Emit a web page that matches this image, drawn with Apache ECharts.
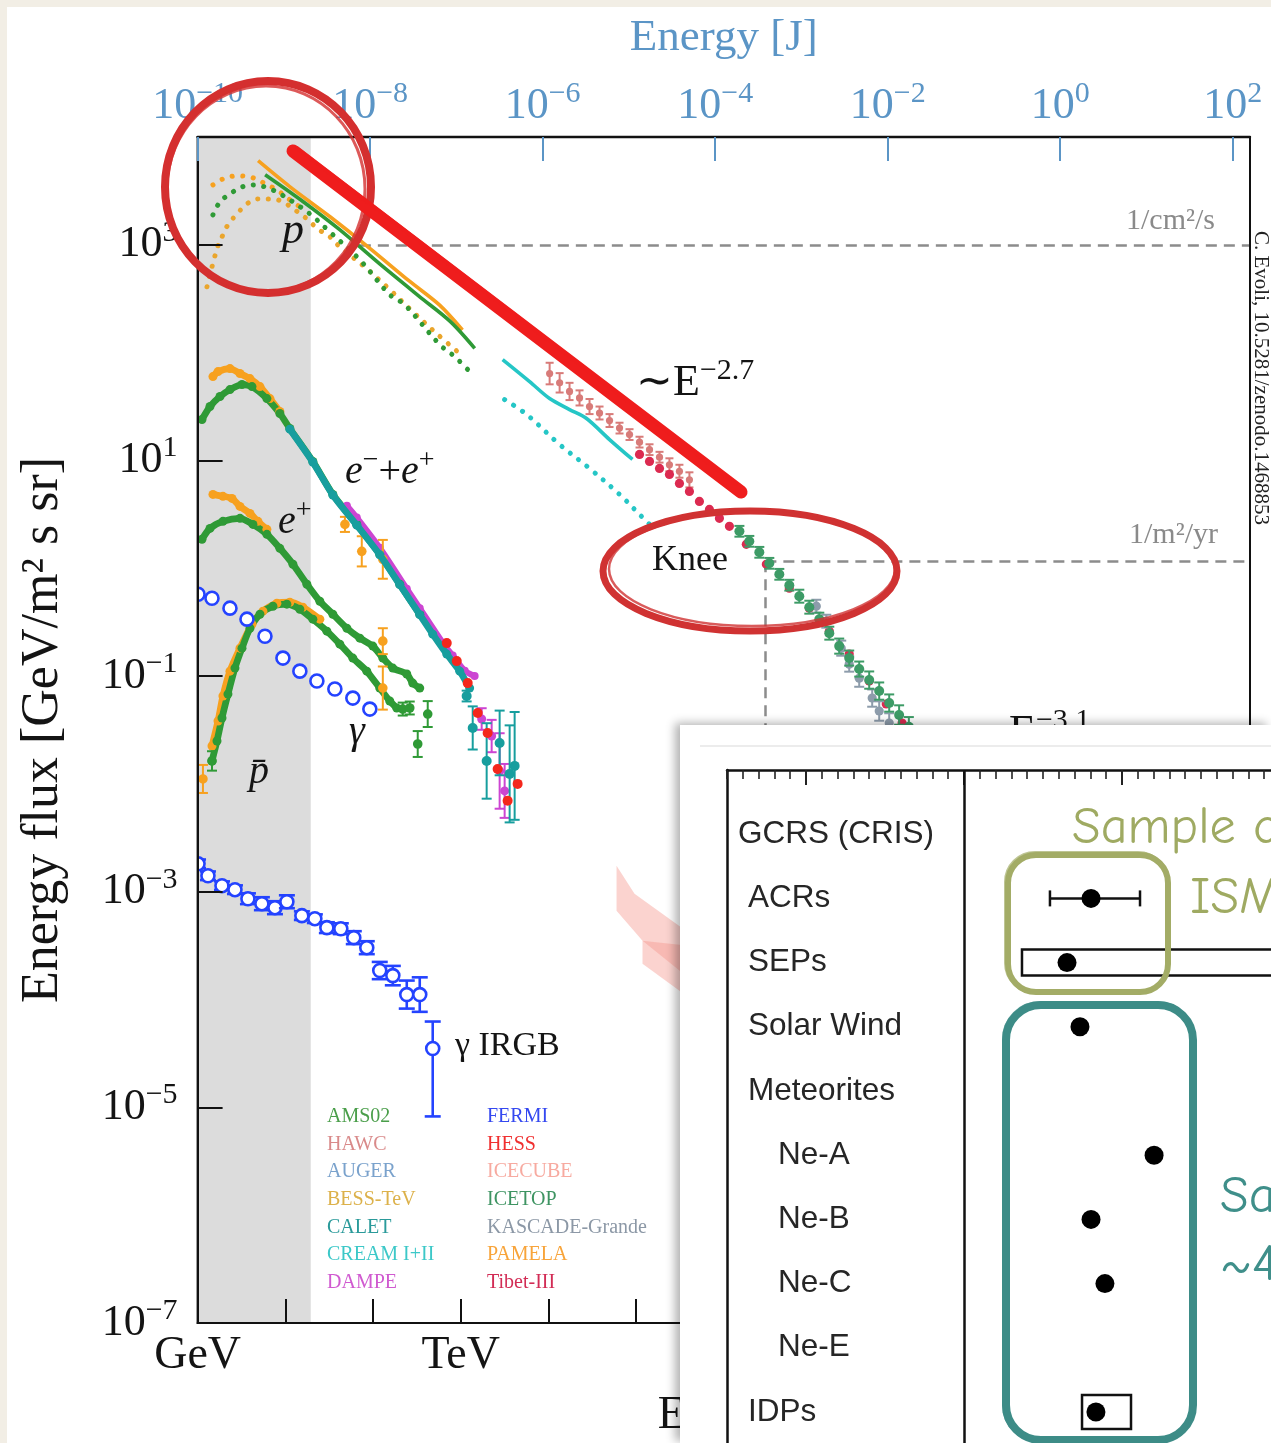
<!DOCTYPE html>
<html>
<head>
<meta charset="utf-8">
<title>Cosmic ray energy flux</title>
<script src="https://cdn.jsdelivr.net/npm/echarts@6.0.0/dist/echarts.min.js"></script>
<style>
html,body{margin:0;padding:0;width:1271px;height:1443px;overflow:hidden;background:#f2eee5;}
#paper{position:absolute;left:7px;top:7px;right:0;bottom:0;background:#fff;}
#main{position:absolute;left:0;top:0;width:1271px;height:1443px;}
#inset{position:absolute;left:680px;top:725px;width:591px;height:718px;background:#fff;box-shadow:-5px -2px 9px rgba(0,0,0,0.30);}
</style>
</head>
<body>
<div id="paper"></div>
<div id="main"></div>
<div id="inset"></div>
<script>
// ================= DATA (main chart: [log10(E/GeV), log10(flux)]) =================
const bottomTickNames = ['GeV','','','TeV','','','PeV','','','EeV','','',''];
const topTickValues = [-10,-8,-6,-4,-2,0,2];
const shadeMaxE = 1.29;
const levelLines = [ [[1.85,3.0],[12,3.0]], [[6.474,0.065],[12,0.065]], [[6.474,0.065],[6.474,-7]] ];

// protons
const pPamela = [[0.69,3.78],[1.05,3.54],[1.51,3.26],[1.96,2.97],[2.42,2.66],[2.76,2.44],[3.02,2.21]];
const pAms = [[0.77,3.65],[1.17,3.42],[1.62,3.14],[2.08,2.82],[2.53,2.52],[2.88,2.29],[3.16,2.04]];
const pPamelaDot = [[0.175,3.556],[0.289,3.611],[0.449,3.639],[0.597,3.630],[0.733,3.583],[0.904,3.509],[1.052,3.417],[1.166,3.352]];
const pBessDot = [[0.107,2.611],[0.221,2.963],[0.289,3.093],[0.346,3.185],[0.449,3.287],[0.563,3.380],[0.688,3.426],[0.847,3.426],[0.973,3.398],[1.109,3.324],[1.246,3.241],[1.371,3.148],[1.508,3.074],[1.622,2.981],[1.929,2.778],[2.157,2.611],[2.453,2.380],[2.727,2.176],[2.989,1.991]];
const pAmsDot = [[0.175,3.278],[0.255,3.398],[0.369,3.472],[0.506,3.537],[0.654,3.556],[0.825,3.519],[0.961,3.463],[1.087,3.398],[1.28,3.287],[1.508,3.120],[1.85,2.861],[2.191,2.537],[2.362,2.444],[2.761,2.074],[2.932,1.963],[3.080,1.843]];
const pCream = [[3.478,1.935],[3.786,1.731],[4.014,1.574],[4.241,1.472],[4.435,1.389],[4.697,1.194],[4.959,1.009]];
const pCreamDot = [[3.501,1.565],[3.752,1.426],[4.128,1.148],[4.469,0.926],[4.811,0.685],[5.039,0.500],[5.210,0.361]];
// [logE, logF, err]
const pHawc = [[4.014,1.806,0.10],[4.128,1.72,0.09],[4.241,1.64,0.08],[4.355,1.58,0.07],[4.469,1.50,0.07],[4.583,1.44,0.06],[4.697,1.37,0.06],[4.811,1.30,0.05],[4.925,1.24,0.05],[5.039,1.17,0.05],[5.153,1.10,0.05],[5.267,1.03,0.05],[5.380,0.96,0.06],[5.494,0.90,0.06],[5.608,0.82,0.07]];
const pTibet = [[5.039,1.056],[5.153,0.991],[5.267,0.926],[5.380,0.870],[5.494,0.787],[5.608,0.713],[5.722,0.620],[5.836,0.546],[5.950,0.463],[6.064,0.389],[6.257,0.222],[6.485,0.037],[6.747,-0.185],[6.975,-0.370],[7.203,-0.583],[7.430,-0.796],[7.658,-1.046],[7.852,-1.259],[8.033,-1.435]];
const pIcetop = [[6.178,0.343,0.05],[6.291,0.250,0.05],[6.405,0.148,0.05],[6.519,0.046,0.05],[6.633,-0.056,0.05],[6.747,-0.157,0.05],[6.861,-0.259,0.06],[6.975,-0.361,0.06],[7.089,-0.472,0.06],[7.203,-0.602,0.06],[7.316,-0.722,0.07],[7.430,-0.833,0.07],[7.544,-0.935,0.07],[7.658,-1.037,0.08],[7.772,-1.139,0.08],[7.886,-1.250,0.08],[7.999,-1.361,0.09],[8.11,-1.47,0.09]];
const pKascade = [[7.055,-0.352,0.06],[7.169,-0.491,0.06],[7.339,-0.741,0.07],[7.430,-0.889,0.07],[7.544,-1.019,0.08],[7.692,-1.204,0.08],[7.772,-1.324,0.09],[7.886,-1.435,0.09]];
// neutrino bands (polygon outlines)
const iceBandA = [[4.777,-2.759],[4.982,-3.019],[5.60,-3.38],[5.60,-3.80],[5.073,-3.454],[4.777,-3.176]];
const iceBandB = [[5.073,-3.454],[5.60,-3.50],[5.60,-3.98],[5.073,-3.667]];

// electrons + positrons
const eAllAms = [[0.050,1.380],[0.141,1.500],[0.255,1.593],[0.369,1.657],[0.506,1.704],[0.620,1.685],[0.790,1.574],[0.938,1.435],[1.052,1.296],[1.314,0.991],[1.542,0.685],[1.815,0.407],[2.077,0.130],[2.305,-0.148],[2.533,-0.426]];
const eAllPamela = [[0.175,1.778],[0.233,1.824],[0.369,1.852],[0.483,1.806],[0.597,1.759],[0.711,1.685],[0.825,1.574],[0.938,1.454]];
const eAllPamelaErr = [[1.680,0.407,0.07],[1.872,0.157,0.14],[2.112,0.083,0.18]];
const eAllCalet = [[1.052,1.29],[1.314,0.985],[1.542,0.68],[1.815,0.40],[2.077,0.125],[2.305,-0.152],[2.533,-0.43],[2.681,-0.611],[2.841,-0.796],[2.989,-0.954],[3.102,-1.111]];
const eAllCaletErr = [[3.068,-1.185,0.05],[3.137,-1.481,0.2],[3.296,-1.787,0.35],[3.444,-1.620,0.3],[3.558,-1.907,0.45],[3.615,-1.833,0.5]];
const eAllDampe = [[1.702,0.58],[1.815,0.47],[2.077,0.19],[2.385,-0.19],[2.533,-0.37],[2.795,-0.69],[2.909,-0.81],[3.046,-0.95],[3.159,-1.0]];
const eAllDampeErr = [[3.239,-1.398,0.1],[3.353,-1.556,0.15],[3.444,-1.880,0.35],[3.501,-2.065,0.25]];
const eAllHess = [[2.841,-0.694],[2.955,-0.861],[3.080,-1.065],[3.194,-1.343],[3.307,-1.528],[3.421,-1.861],[3.535,-2.157],[3.649,-2.000]];
// positrons
const ePosPamela = [[0.175,0.685],[0.289,0.667],[0.392,0.648],[0.483,0.574],[0.597,0.509],[0.688,0.435],[0.790,0.361]];
const ePosPamelaErr = [[2.112,-0.676,0.12]];
const ePosAms = [[0.050,0.269],[0.141,0.370],[0.289,0.435],[0.483,0.463],[0.631,0.407],[0.790,0.315],[0.938,0.185],[1.087,0.037],[1.246,-0.148],[1.394,-0.306],[1.542,-0.426],[1.702,-0.556],[1.850,-0.648],[1.998,-0.722],[2.112,-0.833],[2.226,-0.926],[2.385,-0.981],[2.453,-1.065],[2.533,-1.111]];
const ePosAmsErr = [[2.624,-1.352,0.12],[2.510,-1.630,0.12]];
// antiprotons
const pbarAms = [[0.164,-1.787],[0.221,-1.602],[0.278,-1.389],[0.346,-1.167],[0.426,-0.926],[0.506,-0.741],[0.597,-0.556],[0.711,-0.426],[0.859,-0.352],[1.018,-0.333],[1.166,-0.380],[1.314,-0.472],[1.474,-0.583],[1.622,-0.704],[1.770,-0.833],[1.929,-0.954],[2.077,-1.111],[2.191,-1.231],[2.271,-1.296]];
const pbarAmsErr = [[0.164,-1.787,0.09],[2.339,-1.306,0.06],[2.419,-1.296,0.06]];
const pbarPamela = [[0.164,-1.648],[0.233,-1.417],[0.289,-1.185],[0.369,-0.954],[0.483,-0.741],[0.620,-0.519],[0.745,-0.398],[0.904,-0.324],[1.052,-0.315],[1.200,-0.361],[1.394,-0.472]];
const pbarPamelaErr = [[0.061,-1.954,0.13],[2.112,-1.111,0.2]];
// gamma
const gammaFermi = [[0.005,-0.241],[0.164,-0.278],[0.369,-0.370],[0.563,-0.472],[0.768,-0.630],[0.973,-0.833],[1.166,-0.954],[1.360,-1.046],[1.565,-1.120],[1.770,-1.204],[1.964,-1.306]];
// [logE, logF, errLow, errHigh]
const gammaIrgb = [[0.005,-2.741,0.04,0.04],[0.118,-2.852,0.04,0.04],[0.278,-2.944,0.04,0.04],[0.426,-2.981,0.04,0.04],[0.574,-3.065,0.05,0.05],[0.733,-3.111,0.06,0.06],[0.882,-3.148,0.06,0.06],[1.018,-3.093,0.06,0.06],[1.189,-3.222,0.04,0.04],[1.337,-3.250,0.04,0.04],[1.474,-3.333,0.05,0.05],[1.633,-3.343,0.05,0.05],[1.781,-3.426,0.06,0.06],[1.929,-3.519,0.06,0.06],[2.077,-3.731,0.08,0.08],[2.226,-3.778,0.09,0.09],[2.385,-3.954,0.13,0.13],[2.533,-3.954,0.16,0.16],[2.681,-4.454,0.63,0.25]];

const legendCol1 = ['AMS02','HAWC','AUGER','BESS-TeV','CALET','CREAM I+II','DAMPE'];
const legendCol2 = ['FERMI','HESS','ICECUBE','ICETOP','KASCADE-Grande','PAMELA','Tibet-III'];

// ================= DATA (inset: 22Ne/20Ne-like ratio per sample) =================
const inCats = ['GCRS (CRIS)','ACRs','SEPs','Solar Wind','Meteorites','Ne-A','Ne-B','Ne-C','Ne-E','IDPs'];
const inValue = {'ACRs':0.0804,'SEPs':0.0652,'Solar Wind':0.0734,'Ne-A':0.1203,'Ne-B':0.0804,'Ne-C':0.0892,'IDPs':0.0835};
const inErrBar = {'ACRs':[0.0544,0.1114]};
const inRangeBox = {'SEPs':[0.0367,0.30],'IDPs':[0.0747,0.1057]};
const inMajorTicks = [-0.1,0,0.1,0.2];

// ================= STYLE =================
const FONT = '"Liberation Serif","Times New Roman",serif';
const SANS = '"Liberation Sans",Arial,sans-serif';
const HAND = '"Comic Neue","Comic Sans MS","Noto Sans",sans-serif';
const BLUE = '#5b95c6';
const INK = '#141414';
const C = {AMS02:'#2f9a36', PAMELA:'#f7a11f', BESS:'#eaa52c', CALET:'#179e9e', CREAM:'#25c6c6', DAMPE:'#cc45d2',
  HESS:'#f4271c', HAWC:'#d87b79', TIBET:'#dc2a50', ICETOP:'#3d9b66', KASCADE:'#8d9cab', FERMI:'#2443ff',
  ICECUBE:'#f5a198', AUGER:'#6f9ccb'};
const legendColors = {'AMS02':'#4a9e4a','HAWC':'#d98a8a','AUGER':'#7aa2cc','BESS-TeV':'#dcb14a','CALET':'#2a9a9a',
  'CREAM I+II':'#3cc8c8','DAMPE':'#d05ad0','FERMI':'#3448f0','HESS':'#f03030','ICECUBE':'#f7aaa0','ICETOP':'#3e9462',
  'KASCADE-Grande':'#8c98a6','PAMELA':'#f8a43a','Tibet-III':'#d22c55'};

function supTxt(v){ return String(v).replace('-', '\u2212'); }
function powLabel(v){ return '{b|10}{s|' + supTxt(v) + '}'; }
function powRich(color){ return { b:{fontFamily:FONT,fontSize:44,lineHeight:54,color}, s:{fontFamily:FONT,fontSize:30,lineHeight:30,verticalAlign:'top',color} }; }

function lineS(name, data, color, z){ return {type:'line', name, data, z:z||5, silent:true, smooth:0.3, showSymbol:false, symbol:'none', clip:true, lineStyle:{color, width:3.6}, itemStyle:{color}}; }
function dotS(name, data, color){ return {type:'line', name, data, z:4, silent:true, smooth:0.35, showSymbol:false, symbol:'none', clip:true, lineStyle:{color, width:5, type:[0.1,10.5], cap:'round'}, itemStyle:{color}}; }
function beadS(name, data, color, size, z){ return {type:'line', name, data, z:z||5, silent:true, smooth:0.25, showSymbol:true, symbol:'circle', symbolSize:size, clip:true, lineStyle:{color, width:size*0.75}, itemStyle:{color, borderWidth:0, opacity:1}}; }
function errS(name, data, color, r, o){
  o = o || {};
  const lw = o.lw || 2, cap = (o.cap == null ? 5 : o.cap), hollow = !!o.hollow;
  return {type:'custom', name, data, z:o.z||6, silent:true, clip:true,
    dimensions:['x','y','e1','e2'], encode:{x:0, y:1}, itemStyle:{color},
    renderItem(params, api){
      const x = api.value(0), y = api.value(1);
      let e1 = api.value(2), e2 = api.value(3);
      if (!(e1 > 0)) e1 = 0;
      if (!(e2 > 0)) e2 = e1;
      const p = api.coord([x, y]);
      const kids = [];
      if (e1 > 0 || e2 > 0){
        const a = api.coord([x, y - e1]), b = api.coord([x, y + e2]);
        kids.push({type:'line', shape:{x1:p[0],y1:a[1],x2:p[0],y2:b[1]}, style:{stroke:color,lineWidth:lw}});
        if (cap > 0){
          kids.push({type:'line', shape:{x1:p[0]-cap,y1:a[1],x2:p[0]+cap,y2:a[1]}, style:{stroke:color,lineWidth:lw}});
          kids.push({type:'line', shape:{x1:p[0]-cap,y1:b[1],x2:p[0]+cap,y2:b[1]}, style:{stroke:color,lineWidth:lw}});
        }
      }
      if (r > 0) kids.push({type:'circle', shape:{cx:p[0],cy:p[1],r}, style: hollow ? {fill:'#fff',stroke:color,lineWidth:2.6} : {fill:color}});
      return {type:'group', children:kids};
    }};
}

const iceBands = [iceBandA, iceBandB];
const series = [
  {type:'line', name:'_bg', data:[], z:1, silent:true, symbol:'none',
    markArea:{silent:true, itemStyle:{color:'#dcdcdc'}, data:[[{xAxis:0},{xAxis:shadeMaxE}]]},
    markLine:{silent:true, symbol:['none','none'], label:{show:false}, lineStyle:{color:'#8c8c8c', width:2.5, type:[11,7]},
      data: levelLines.map(function(seg){ return [{coord:seg[0]},{coord:seg[1]}]; })}},
  {type:'custom', name:'ICECUBE', z:2, silent:true, clip:true, data: iceBands.map(function(b,i){ return [b[0][0], b[0][1], i]; }),
    encode:{x:0,y:1}, itemStyle:{color:C.ICECUBE},
    renderItem(params, api){
      const band = iceBands[api.value(2)];
      return {type:'polygon', shape:{points: band.map(function(pt){ return api.coord(pt); })}, style:{fill:'rgba(246,150,140,0.42)'}};
    }},
  {type:'line', name:'AUGER', data:[], itemStyle:{color:C.AUGER}},
  // protons
  dotS('PAMELA', pPamelaDot, C.PAMELA),
  dotS('BESS-TeV', pBessDot, C.BESS),
  dotS('AMS02', pAmsDot, C.AMS02),
  lineS('PAMELA', pPamela, C.PAMELA),
  lineS('AMS02', pAms, C.AMS02),
  lineS('CREAM I+II', pCream, C.CREAM),
  dotS('CREAM I+II', pCreamDot, C.CREAM),
  errS('HAWC', pHawc, C.HAWC, 3.6, {cap:4, lw:2, z:5}),
  errS('Tibet-III', pTibet, C.TIBET, 4.6, {z:6}),
  errS('KASCADE-Grande', pKascade, C.KASCADE, 4.6, {cap:5, z:6}),
  errS('ICETOP', pIcetop, C.ICETOP, 5, {cap:5, z:7}),
  // e- + e+
  beadS('PAMELA', eAllPamela, C.PAMELA, 9, 5),
  beadS('AMS02', eAllAms, C.AMS02, 9, 5),
  beadS('DAMPE', eAllDampe, C.DAMPE, 8, 5),
  beadS('CALET', eAllCalet, C.CALET, 9, 6),
  errS('PAMELA', eAllPamelaErr, C.PAMELA, 4.8, {cap:5, z:6}),
  errS('HESS', eAllHess, C.HESS, 5, {z:7}),
  errS('DAMPE', eAllDampeErr, C.DAMPE, 4.5, {cap:5, z:6}),
  errS('CALET', eAllCaletErr, C.CALET, 5, {cap:5, z:6}),
  // positrons
  beadS('PAMELA', ePosPamela, C.PAMELA, 9, 5),
  beadS('AMS02', ePosAms, C.AMS02, 9, 5),
  errS('AMS02', ePosAmsErr, C.AMS02, 4.8, {cap:5, z:6}),
  errS('PAMELA', ePosPamelaErr, C.PAMELA, 4.8, {cap:5, z:6}),
  // antiprotons
  beadS('PAMELA', pbarPamela, C.PAMELA, 9, 5),
  beadS('AMS02', pbarAms, C.AMS02, 9, 5),
  errS('AMS02', pbarAmsErr, C.AMS02, 4.8, {cap:5, z:6}),
  errS('PAMELA', pbarPamelaErr, C.PAMELA, 4.8, {cap:5, z:6}),
  // gamma
  errS('FERMI', gammaFermi, C.FERMI, 6.5, {hollow:true, z:8}),
  errS('FERMI', gammaIrgb, C.FERMI, 6.5, {hollow:true, cap:8, lw:2.6, z:8})
];

function mkLegend(names, left){
  return {show:true, orient:'vertical', left, top:1107, itemGap:7.6, itemWidth:1, itemHeight:20, icon:'rect',
    itemStyle:{opacity:0}, lineStyle:{opacity:0}, selectedMode:false, padding:0,
    textStyle:{fontFamily:FONT, fontSize:20},
    data: names.map(function(n){ return {name:n, textStyle:{color:legendColors[n]}}; })};
}

function gtext(x, y, text, font, fill, align){
  return {type:'text', x, y, z:100, silent:true, style:{text, font, fill, align:align||'left', verticalAlign:'middle'}};
}
function grich(x, y, text, rich, align){
  return {type:'text', x, y, z:100, silent:true, style:{text, rich, align:align||'left', verticalAlign:'middle'}};
}
const supRichG = { b:{fontFamily:FONT,fontSize:44,lineHeight:54,fill:INK}, s:{fontFamily:FONT,fontSize:30,lineHeight:30,verticalAlign:'top',fill:INK} };
const eRich = { i:{fontFamily:FONT,fontStyle:'italic',fontSize:40,lineHeight:50,fill:INK}, u:{fontFamily:FONT,fontSize:40,lineHeight:50,fill:INK}, s:{fontFamily:FONT,fontSize:28,lineHeight:28,verticalAlign:'top',fill:INK} };

const graphicMain = [
  gtext(293, 231, 'p', 'italic 44px '+FONT, INK, 'center'),
  grich(345, 472, '{i|e}{s|\u2212}{u|+}{i|e}{s|+}', eRich),
  grich(278, 522, '{i|e}{s|+}', eRich),
  gtext(357, 732, '\u03b3', 'italic 40px '+FONT, INK, 'center'),
  gtext(259, 772, 'p\u0304', 'italic 40px '+FONT, INK, 'center'),
  gtext(455, 1046, '\u03b3 IRGB', '34px '+FONT, INK, 'left'),
  gtext(652, 561, 'Knee', '36px '+FONT, INK, 'left'),
  grich(636, 383, '{b|\u223cE}{s|\u22122.7}', supRichG),
  grich(972, 733, '{b|\u223cE}{s|\u22123.1}', supRichG),
  gtext(1215, 221, '1/cm\u00b2/s', '30px '+FONT, '#8a8a8a', 'right'),
  gtext(1218, 535, '1/m\u00b2/yr', '30px '+FONT, '#8a8a8a', 'right'),
  {type:'text', x:1261, y:231, rotation:-Math.PI/2, z:100, silent:true, style:{text:'C. Evoli, 10.5281/zenodo.1468853', font:'21px '+FONT, fill:'#222', align:'left', verticalAlign:'middle'}},
  // hand-drawn red annotations
  {type:'ellipse', z:110, silent:true, shape:{cx:268,cy:187,rx:103,ry:106}, style:{fill:'none', stroke:'#d42f2f', lineWidth:8}},
  {type:'ellipse', z:110, silent:true, shape:{cx:266,cy:189,rx:99,ry:103}, style:{fill:'none', stroke:'#d42f2f', lineWidth:3, opacity:0.8}},
  {type:'line', z:110, silent:true, shape:{x1:293,y1:151,x2:741,y2:492}, style:{stroke:'#ef1d1d', lineWidth:13, lineCap:'round'}},
  {type:'line', z:110, silent:true, shape:{x1:297,y1:148,x2:736,y2:484}, style:{stroke:'#ef1d1d', lineWidth:4, lineCap:'round', opacity:0.8}},
  {type:'ellipse', z:110, silent:true, shape:{cx:750,cy:571,rx:147,ry:60}, style:{fill:'none', stroke:'#d03232', lineWidth:7}},
  {type:'ellipse', z:110, silent:true, shape:{cx:752,cy:569,rx:143,ry:57}, style:{fill:'none', stroke:'#d03232', lineWidth:2.5, opacity:0.8}}
];

const mainOption = {
  animation:false,
  backgroundColor:'transparent',
  textStyle:{fontFamily:FONT},
  grid:{left:197.6, top:137, right:21, bottom:120, show:true, borderColor:'#111', borderWidth:2, backgroundColor:'transparent', containLabel:false, outerBoundsMode:'none', z:10},
  xAxis:[
    {type:'value', min:0, max:12, interval:1, position:'bottom', z:10,
      axisLine:{show:true, onZero:false, lineStyle:{color:'#111', width:2}},
      axisTick:{show:true, inside:true, length:24, lineStyle:{color:'#111', width:2}},
      splitLine:{show:false},
      axisLabel:{formatter:function(v){ return bottomTickNames[v] || ''; }, fontFamily:FONT, fontSize:46, color:INK, margin:10},
      name:'Energy', nameLocation:'middle', nameGap:70, nameMoveOverlap:false, nameTextStyle:{fontFamily:FONT, fontSize:46, color:INK}},
    {type:'value', min:-10, max:2.2, interval:2, position:'top', z:10,
      axisLine:{show:true, onZero:false, lineStyle:{color:'#111', width:2.4}},
      axisTick:{show:true, inside:true, length:24, customValues:topTickValues, lineStyle:{color:BLUE, width:2}},
      splitLine:{show:false},
      axisLabel:{customValues:topTickValues, formatter:function(v){ return (Number.isInteger(v) && v % 2 === 0) ? powLabel(v) : ''; }, rich:powRich(BLUE), color:BLUE, margin:4},
      name:'Energy [J]', nameLocation:'middle', nameGap:76, nameMoveOverlap:false, nameTextStyle:{fontFamily:FONT, fontSize:45, color:BLUE}}
  ],
  yAxis:[
    {type:'value', min:-7, max:4, interval:2, z:10,
      axisLine:{show:true, onZero:false, lineStyle:{color:'#111', width:2}},
      axisTick:{show:true, inside:true, length:25, lineStyle:{color:'#111', width:2}},
      splitLine:{show:false},
      axisLabel:{formatter:function(v){ return (Number.isInteger(v) && Math.abs(v) % 2 === 1) ? powLabel(v) : ''; }, rich:powRich(INK), color:INK, margin:20},
      name:'Energy flux [GeV/m\u00b2 s sr]', nameLocation:'middle', nameGap:128, nameMoveOverlap:false, nameTextStyle:{fontFamily:FONT, fontSize:52, color:INK}}
  ],
  legend:[mkLegend(legendCol1, 321), mkLegend(legendCol2, 481)],
  series: series,
  graphic: graphicMain
};

// ================= INSET =================
function inLabel(v){
  const n = inCats[v];
  if (n === undefined) return '';
  if (n.indexOf('Ne-') === 0) return '{n|' + n + '}';
  if (n.indexOf('GCRS') === 0) return '{g|' + n + '}';
  return '{m|' + n + '}';
}
const inLabelStyle = {fontFamily:SANS, fontSize:31.5, color:'#262626'};
const boxHalfPx = [13, 17];
const insetOption = {
  animation:false,
  grid:{left:47, top:45, right:-88, bottom:-65.3, containLabel:false, outerBoundsMode:'none'},
  xAxis:[
    {type:'value', position:'top', min:-0.15, max:0.25, interval:0.01,
      axisLine:{show:true, onZero:false, lineStyle:{color:'#111', width:2.5}},
      axisTick:{show:true, inside:true, length:9, lineStyle:{color:'#222', width:1.6}},
      axisLabel:{show:false}, splitLine:{show:false}},
    {type:'value', position:'top', min:-0.15, max:0.25,
      axisLine:{show:false, onZero:false},
      axisTick:{show:true, inside:true, length:15, customValues:inMajorTicks, lineStyle:{color:'#222', width:2}},
      axisLabel:{show:false}, splitLine:{show:false}}
  ],
  yAxis:{type:'value', inverse:true, min:-1, max:10.5, interval:1,
    axisLine:{show:true, onZero:false, lineStyle:{color:'#111', width:2.5}},
    axisTick:{show:false}, splitLine:{show:false},
    axisLabel:{inside:true, margin:11, formatter:inLabel,
      rich:{g:inLabelStyle, m:Object.assign({padding:[0,0,0,10]}, inLabelStyle), n:Object.assign({padding:[0,0,0,40]}, inLabelStyle)}}},
  series:[
    {type:'custom', name:'range', z:3, silent:true, xAxisIndex:0, yAxisIndex:0, encode:{x:[0,1], y:2},
      data: Object.keys(inRangeBox).map(function(c){ return [inRangeBox[c][0], inRangeBox[c][1], inCats.indexOf(c)]; }),
      renderItem(params, api){
        const a = api.coord([api.value(0), api.value(2)]), b = api.coord([api.value(1), api.value(2)]);
        const h = boxHalfPx[params.dataIndex];
        return {type:'rect', shape:{x:a[0], y:a[1]-h, width:b[0]-a[0], height:2*h}, style:{fill:'none', stroke:'#111', lineWidth:2.5}};
      }},
    {type:'custom', name:'err', z:3, silent:true, xAxisIndex:0, yAxisIndex:0, encode:{x:[0,1], y:2},
      data: Object.keys(inErrBar).map(function(c){ return [inErrBar[c][0], inErrBar[c][1], inCats.indexOf(c)]; }),
      renderItem(params, api){
        const a = api.coord([api.value(0), api.value(2)]), b = api.coord([api.value(1), api.value(2)]);
        const st = {stroke:'#111', lineWidth:2.5};
        return {type:'group', children:[
          {type:'line', shape:{x1:a[0],y1:a[1],x2:b[0],y2:b[1]}, style:st},
          {type:'line', shape:{x1:a[0],y1:a[1]-8,x2:a[0],y2:a[1]+8}, style:st},
          {type:'line', shape:{x1:b[0],y1:b[1]-8,x2:b[0],y2:b[1]+8}, style:st}]};
      }},
    {type:'scatter', name:'samples', z:5, silent:true, xAxisIndex:0, yAxisIndex:0, symbol:'circle', symbolSize:19,
      itemStyle:{color:'#000', opacity:1},
      data: inCats.map(function(c,i){ return (c in inValue) ? [inValue[c], i] : null; }).filter(function(d){ return d; }),
      markLine:{silent:true, symbol:['none','none'], label:{show:false}, lineStyle:{color:'#111', width:2.5, type:'solid'}, data:[{xAxis:0}]}}
  ],
  graphic:[
    {type:'line', z:50, silent:true, shape:{x1:20,y1:21,x2:591,y2:21}, style:{stroke:'#e6e6e6', lineWidth:1.5}},
    {type:'rect', z:100, silent:true, shape:{x:328,y:130,width:160,height:137,r:28}, style:{fill:'none', stroke:'#a3ac66', lineWidth:6}},
    {type:'rect', z:100, silent:true, shape:{x:325,y:127,width:163,height:141,r:30}, style:{fill:'none', stroke:'#a3ac66', lineWidth:2, opacity:0.7}},
    {type:'rect', z:100, silent:true, shape:{x:326,y:280,width:187,height:435,r:35}, style:{fill:'none', stroke:'#3d8c87', lineWidth:8}},
    {type:'rect', z:100, silent:true, shape:{x:323,y:277,width:191,height:440,r:37}, style:{fill:'none', stroke:'#3d8c87', lineWidth:2, opacity:0.7}},
    {type:'text', x:392, y:103, z:100, silent:true, style:{text:'Sample of', font:'52px '+HAND, fill:'#9faa62', align:'left', verticalAlign:'middle'}},
    {type:'text', x:510, y:173, z:100, silent:true, style:{text:'ISM', font:'52px '+HAND, fill:'#9faa62', align:'left', verticalAlign:'middle'}},
    {type:'text', x:540, y:472, z:100, silent:true, style:{text:'Sample of', font:'52px '+HAND, fill:'#3f8f8a', align:'left', verticalAlign:'middle'}},
    {type:'text', x:540, y:540, z:100, silent:true, style:{text:'~4.6 Gyr ago', font:'52px '+HAND, fill:'#3f8f8a', align:'left', verticalAlign:'middle'}}
  ]
};

const mainChart = echarts.init(document.getElementById('main'), null, {renderer:'canvas'});
mainChart.setOption(mainOption);
const insetChart = echarts.init(document.getElementById('inset'), null, {renderer:'canvas'});
insetChart.setOption(insetOption);
</script>
</body>
</html>
